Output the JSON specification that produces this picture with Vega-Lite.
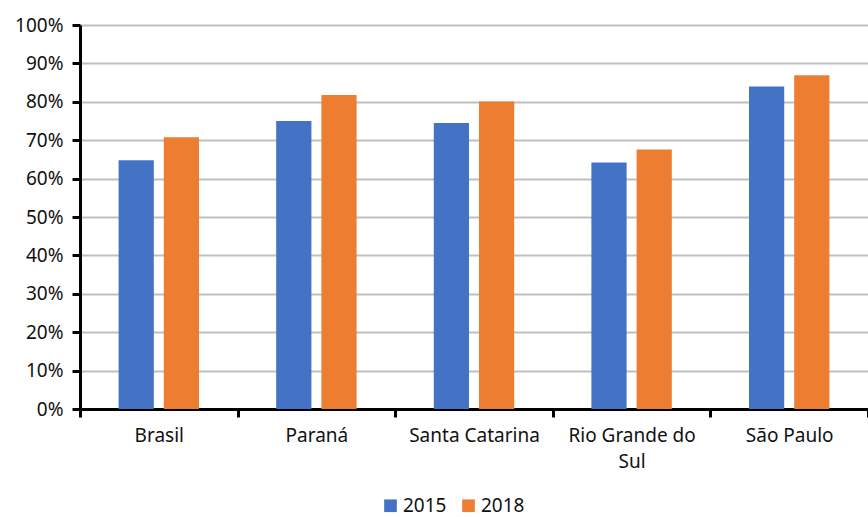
{
  "$schema": "https://vega.github.io/schema/vega-lite/v6.json",
  "width": 788,
  "height": 384,
  "autosize": {"type": "none"},
  "padding": {"left": 80, "top": 25, "right": 0, "bottom": 108},
  "background": "white",
  "config": {
    "view": {"stroke": null},
    "font": "Noto Sans"
  },
  "data": {
    "values": [
      {"regiao": "Brasil", "ano": "2015", "valor": 0.648},
      {"regiao": "Brasil", "ano": "2018", "valor": 0.708},
      {"regiao": "Paraná", "ano": "2015", "valor": 0.750},
      {"regiao": "Paraná", "ano": "2018", "valor": 0.818},
      {"regiao": "Santa Catarina", "ano": "2015", "valor": 0.745},
      {"regiao": "Santa Catarina", "ano": "2018", "valor": 0.801},
      {"regiao": "Rio Grande do Sul", "ano": "2015", "valor": 0.642},
      {"regiao": "Rio Grande do Sul", "ano": "2018", "valor": 0.676},
      {"regiao": "São Paulo", "ano": "2015", "valor": 0.840},
      {"regiao": "São Paulo", "ano": "2018", "valor": 0.869}
    ]
  },
  "mark": {"type": "bar"},
  "encoding": {
    "x": {
      "field": "regiao",
      "type": "nominal",
      "sort": null,
      "title": null,
      "scale": {"paddingInner": 0, "paddingOuter": 0},
      "axis": {
        "domainColor": "black",
        "domainWidth": 3,
        "tickColor": "black",
        "tickWidth": 3,
        "tickSize": 8,
        "tickBand": "extent",
        "labelAngle": 0,
        "labelFontSize": 19,
        "labelColor": "#111111",
        "labelPadding": 9,
        "labelLineHeight": 26,
        "labelExpr": "datum.value == 'Rio Grande do Sul' ? ['Rio Grande do', 'Sul'] : datum.value"
      }
    },
    "xOffset": {
      "field": "ano",
      "type": "nominal",
      "scale": {"paddingInner": 0.221, "paddingOuter": 0.854}
    },
    "y": {
      "field": "valor",
      "type": "quantitative",
      "title": null,
      "scale": {"domain": [0, 1]},
      "axis": {
        "format": ".0%",
        "values": [0, 0.1, 0.2, 0.3, 0.4, 0.5, 0.6, 0.7, 0.8, 0.9, 1],
        "labelOverlap": false,
        "domainColor": "black",
        "domainWidth": 3,
        "tickColor": "black",
        "tickWidth": 3,
        "tickSize": 8,
        "labelFontSize": 19,
        "labelColor": "#111111",
        "labelPadding": 9,
        "gridColor": "#BFBFBF",
        "gridWidth": 2
      }
    },
    "color": {
      "field": "ano",
      "type": "nominal",
      "title": null,
      "scale": {"domain": ["2015", "2018"], "range": ["#4472C4", "#ED7D31"]},
      "legend": {
        "orient": "none",
        "direction": "horizontal",
        "legendX": 301,
        "legendY": 471,
        "symbolType": "square",
        "symbolSize": 160,
        "symbolStrokeWidth": 0,
        "labelFontSize": 19,
        "labelColor": "#111111",
        "columnPadding": 12,
        "labelOffset": 3
      }
    }
  }
}
